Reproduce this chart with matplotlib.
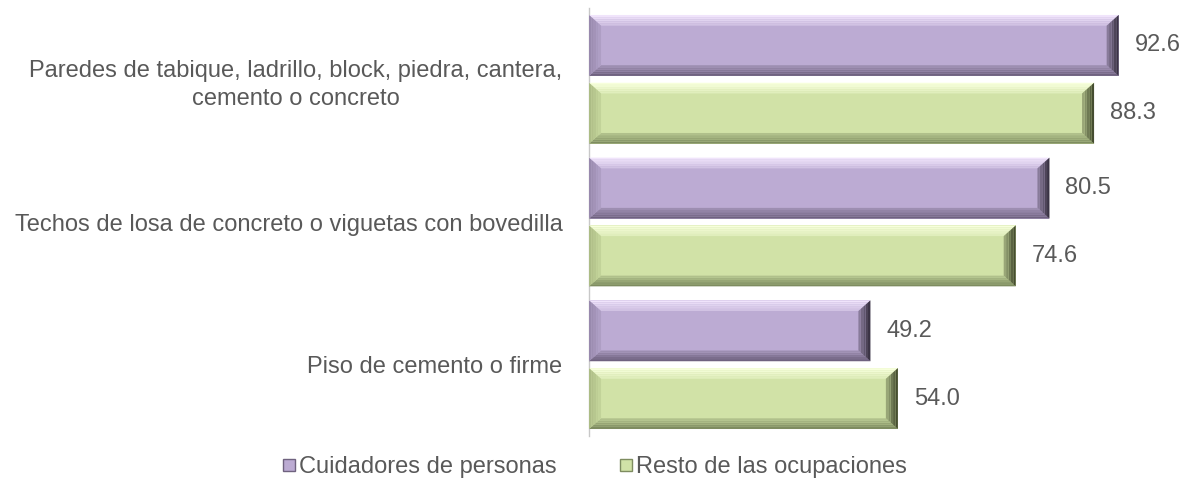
import matplotlib.pyplot as plt
from matplotlib.patches import Polygon
from matplotlib.lines import Line2D
from matplotlib.colors import to_rgb
import numpy as np

plt.rcParams['font.family'] = ['Liberation Sans', 'DejaVu Sans']

# Data
categories = ['Paredes de tabique, ladrillo, block, piedra, cantera,\ncemento o concreto',
              'Techos de losa de concreto o viguetas con bovedilla',
              'Piso de cemento o firme']
series_names = ['Cuidadores de personas', 'Resto de las ocupaciones']
cuidadores = [92.6, 80.5, 49.2]
resto = [88.3, 74.6, 54.0]

# colours: main face, then outer edge colour of each bevel side
purple = dict(main='#bcabd3', top='#f0e4fb', bot='#6f627f', end='#3a3344', left='#8f81a3')
green = dict(main='#d1e2a7', top='#f7ffdc', bot='#7e8c60', end='#454d30', left='#a3b27c')

text_color = '#595959'
fs = 17

fig = plt.figure(figsize=(11.98, 4.83), dpi=100)
ax = fig.add_axes([589 / 1198, 1 - 436 / 483, 572 / 1198, 428 / 483])

y = np.arange(len(categories))
h = 0.427
off = 0.2375


def mix(c1, c2, t):
    a, b = np.array(to_rgb(c1)), np.array(to_rgb(c2))
    return tuple(a + (b - a) * t)


def bevel_bar(ax, yc, val, col, nb=5):
    ax.barh(yc, val, height=h, color=col['main'], edgecolor='none', zorder=2)
    bx = 2.1    # bevel in x units
    by = 0.075  # bevel in y units
    y0, y1 = yc - h / 2, yc + h / 2  # y0 is upper on screen (inverted axis)
    for k in range(nb):
        t0, t1 = k / nb, (k + 1) / nb
        c = 1 - 0.75 * t0  # outer bands strongest
        dx0, dx1 = bx * t0, bx * t1
        dy0, dy1 = by * t0, by * t1
        # top
        ax.add_patch(Polygon([(dx0, y0 + dy0), (val - dx0, y0 + dy0),
                              (val - dx1, y0 + dy1), (dx1, y0 + dy1)],
                             closed=True, color=mix(col['main'], col['top'], c), lw=0, zorder=3))
        # bottom
        ax.add_patch(Polygon([(dx0, y1 - dy0), (val - dx0, y1 - dy0),
                              (val - dx1, y1 - dy1), (dx1, y1 - dy1)],
                             closed=True, color=mix(col['main'], col['bot'], c), lw=0, zorder=3))
        # left
        ax.add_patch(Polygon([(dx0, y0 + dy0), (dx1, y0 + dy1),
                              (dx1, y1 - dy1), (dx0, y1 - dy0)],
                             closed=True, color=mix(col['main'], col['left'], c * 0.8), lw=0, zorder=3))
        # right
        ax.add_patch(Polygon([(val - dx0, y0 + dy0), (val - dx1, y0 + dy1),
                              (val - dx1, y1 - dy1), (val - dx0, y1 - dy0)],
                             closed=True, color=mix(col['main'], col['end'], c), lw=0, zorder=3))
    ax.text(val + 2.8, yc, f'{val:.1f}', ha='left', va='center',
            fontsize=fs, color=text_color)


for i in range(len(categories)):
    bevel_bar(ax, y[i] - off, cuidadores[i], purple)
    bevel_bar(ax, y[i] + off, resto[i], green)

ax.set_xlim(0, 100)
ax.set_ylim(2.5, -0.5)
ax.set_yticks(y)
ax.set_yticklabels(categories, fontsize=fs, color=text_color, ha='right',
                   multialignment='center', linespacing=1.35)
ax.tick_params(axis='y', length=0, pad=19)
ax.set_xticks([])
for s in ['top', 'right', 'bottom']:
    ax.spines[s].set_visible(False)
ax.spines['left'].set_color('#c8c8c8')
ax.spines['left'].set_linewidth(1)

# Legend
handles = [Line2D([], [], marker='s', linestyle='none', markersize=9,
                  markerfacecolor=purple['main'], markeredgecolor=purple['bot']),
           Line2D([], [], marker='s', linestyle='none', markersize=9,
                  markerfacecolor=green['main'], markeredgecolor=green['bot'])]
leg = fig.legend(handles, series_names, loc='center', bbox_to_anchor=(595 / 1198, 1 - 467 / 483),
                 ncol=2, frameon=False, fontsize=fs, handlelength=0.5, handletextpad=0.15,
                 columnspacing=2.7)
for t in leg.get_texts():
    t.set_color(text_color)

plt.savefig('out.png', dpi=100)
